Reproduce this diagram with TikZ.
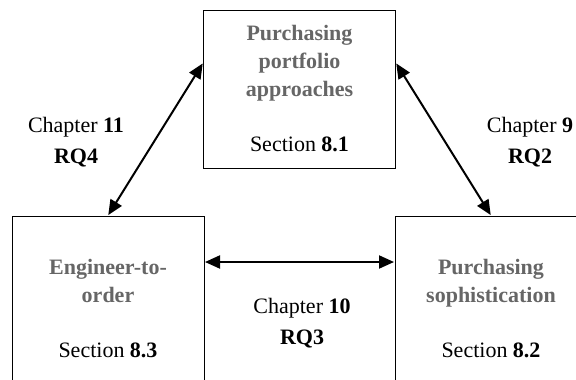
\documentclass[tikz,border=0pt]{standalone}
\usepackage{fontspec}
\setmainfont{Liberation Serif}
\usepackage{tikz}
\usetikzlibrary{arrows.meta}
\definecolor{titlegrey}{HTML}{666666}
\newcommand{\ttl}[1]{\textcolor{titlegrey}{\textbf{#1}}}

\begin{document}
\begin{tikzpicture}[x=1pt, y=-1pt, >={Triangle[length=15pt,width=13pt]}]
\tikzstyle{block} = [draw, rectangle, line width=1pt, align=center, minimum width=192pt, font=\fontsize{22}{28}\selectfont]
\tikzstyle{line} = [draw, <->, line width=2pt, shorten <=0.5pt, shorten >=0.5pt]
\tikzstyle{chap} = [align=center, font=\fontsize{22}{31}\selectfont]

\useasboundingbox (0,0) rectangle (576,380);
\clip (0,0) rectangle (576,380);

\node [block, minimum height=158pt] (PPA) at (299.5,89) {\ttl{Purchasing}\\ \ttl{portfolio}\\ \ttl{approaches}\\[27pt] Section \textbf{8.1}};
\node [block, minimum height=186pt] (ETO) at (108,309) {\ttl{Engineer-to-}\\ \ttl{order}\\[27pt] Section \textbf{8.3}};
\node [block, minimum height=186pt] (PS) at (491,309) {\ttl{Purchasing}\\ \ttl{sophistication}\\[27pt] Section \textbf{8.2}};

\node [chap] (C11) at (76,142) {Chapter \textbf{11}\\ \textbf{RQ4}};
\node [chap] (C9) at (530,142) {Chapter \textbf{9}\\ \textbf{RQ2}};
\node [chap] (C10) at (302,323) {Chapter \textbf{10}\\ \textbf{RQ3}};

\path [line] ([yshift=26pt]PPA.west) -- (ETO.north);
\path [line] ([yshift=26pt]PPA.east) -- (PS.north);
\path [line] ([yshift=47pt]ETO.east) -- ([yshift=47pt]PS.west);
\end{tikzpicture}
\end{document}
